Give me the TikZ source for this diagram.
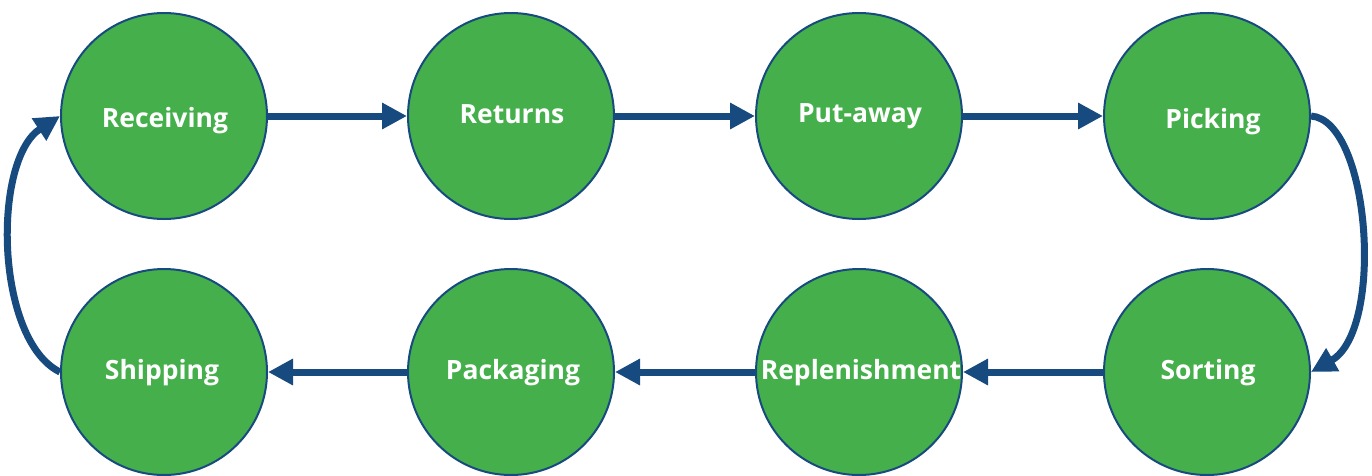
\documentclass[tikz,border=0pt]{standalone}
\usepackage{fontspec}
\setmainfont{Open Sans}
\usetikzlibrary{arrows.meta}
\definecolor{stepgreen}{HTML}{45B04B}
\definecolor{stepblue}{HTML}{174A7E}
\tikzset{
  stage/.style={circle, draw=stepblue, line width=2pt, fill=stepgreen, minimum size=206pt, inner sep=0pt},
  stagetext/.style={text=white, font=\bfseries\fontsize{26.5}{30}\selectfont, text height=19pt, text depth=0pt, inner sep=0pt},
  flow/.style={draw=stepblue, line width=7pt, -{Triangle[length=25pt,width=25pt]}}
}
\begin{document}
\begin{tikzpicture}[x=1pt,y=-1pt]
\useasboundingbox (0,0) rectangle (1372,475);
\node[stage] (rec) at (164,116) {};
\node[stage] (ret) at (511,116) {};
\node[stage] (put) at (859,116) {};
\node[stage] (pick) at (1207,116) {};
\node[stage] (ship) at (164,372) {};
\node[stage] (pack) at (511,372) {};
\node[stage] (rep) at (859,372) {};
\node[stage] (sort) at (1207,372) {};
\node[stagetext] (trec) at (165,118) {Receiving};
\node[stagetext] (tret) at (512,113.5) {Returns};
\node[stagetext] (tput) at (860,113) {Put-away};
\node[stagetext] (tpick) at (1213,118.5) {Picking};
\node[stagetext] (tship) at (162,370) {Shipping};
\node[stagetext] (tpack) at (513,370) {Packaging};
\node[stagetext] (trep) at (861,369.5) {Replenishment};
\node[stagetext] (tsort) at (1208,370) {Sorting};
\draw[flow] (rec.east) -- (ret.west);
\draw[flow] (ret.east) -- (put.west);
\draw[flow] (put.east) -- (pick.west);
\draw[flow] (sort.west) -- (rep.east);
\draw[flow] (rep.west) -- (pack.east);
\draw[flow] (pack.west) -- (ship.east);
\draw[flow] (pick.east) .. controls (1370,120) and (1385,330) .. (sort.east);
\draw[flow] (ship.west) .. controls (-5,340) and (-8,160) .. (rec.west);
\end{tikzpicture}
\end{document}
